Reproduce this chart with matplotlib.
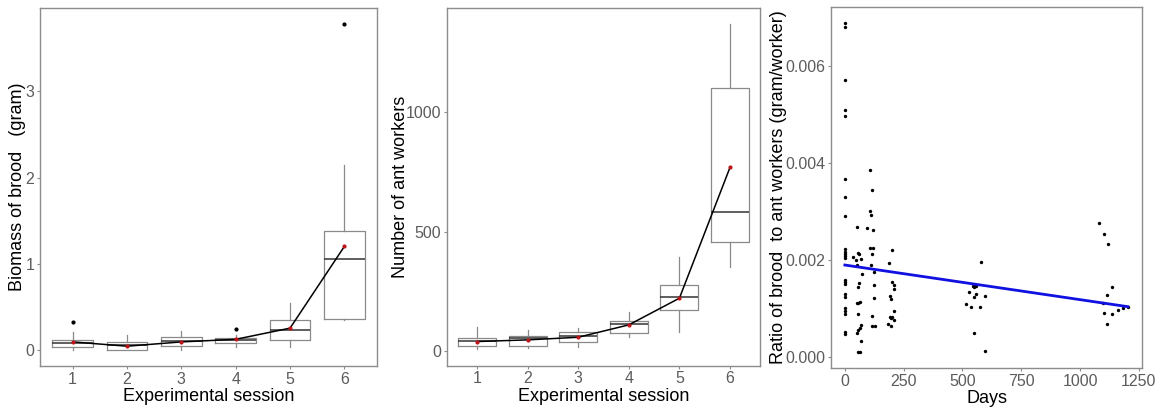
import numpy as np
import matplotlib
matplotlib.use('Agg')
import matplotlib.pyplot as plt
from matplotlib.ticker import FormatStrFormatter

plt.rcParams['font.family'] = ['Liberation Sans', 'DejaVu Sans']

sessions = [1, 2, 3, 4, 5, 6]

# Biomass of brood (gram) per session: box stats, outliers and means
brood_q1 = [0.035, 0.00, 0.04, 0.08, 0.11, 0.36]
brood_med = [0.08, 0.05, 0.10, 0.11, 0.23, 1.05]
brood_q3 = [0.11, 0.09, 0.15, 0.13, 0.345, 1.38]
brood_lo = [0.00, 0.00, 0.00, 0.03, 0.03, 0.35]
brood_hi = [0.20, 0.17, 0.22, 0.17, 0.54, 2.14]
brood_out = [[0.32], [], [], [0.24], [], [3.78]]
brood_mean = [0.09, 0.04, 0.09, 0.12, 0.25, 1.20]

# Number of ant workers per session
workers_q1 = [20, 20, 38, 73, 171, 458]
workers_med = [42, 53, 62, 112, 223, 581]
workers_q3 = [52, 63, 77, 126, 277, 1102]
workers_lo = [6, 10, 17, 55, 77, 349]
workers_hi = [97, 87, 94, 164, 392, 1372]
workers_mean = [38, 45, 56, 108, 220, 769]

# Ratio of brood to ant workers vs days
days = [0, 0, 0, 0, 0, 0, 0, 0, 0, 0, 0, 0, 0, 0, 0, 0, 0, 0, 0, 0, 0, 0, 0,
        50, 35, 48, 57, 60, 67, 50, 72, 60, 58, 50, 57, 64, 55, 69, 64, 58, 50, 68, 57, 65,
        109, 116, 105, 113, 94, 120, 105, 119, 115, 112, 123, 125, 122, 116, 116, 130,
        201, 188, 201, 208, 207, 194, 198, 207, 194, 201, 208, 196, 184, 198,
        581, 546, 551, 556, 548, 527, 557, 551, 595, 514, 537, 573, 551, 597,
        1080, 1101, 1118, 1135, 1115, 1098, 1101, 1135, 1113, 1163, 1183, 1203]
ratio = [0.00688, 0.00680, 0.00570, 0.00509, 0.00496, 0.00367, 0.00329, 0.00291,
         0.00222, 0.00216, 0.00211, 0.00207, 0.00204, 0.00159, 0.00154, 0.00150,
         0.00130, 0.00124, 0.00101, 0.00094, 0.00089, 0.00051, 0.00047,
         0.00267, 0.00206, 0.00199, 0.00214, 0.00211, 0.00201, 0.00190, 0.00170, 0.00151,
         0.00143, 0.00110, 0.00111, 0.00113, 0.00089, 0.00065, 0.00060, 0.00055, 0.00048,
         0.00032, 0.00010, 0.00010,
         0.00384, 0.00343, 0.00301, 0.00292, 0.00266, 0.00261, 0.00225, 0.00225, 0.00211,
         0.00189, 0.00174, 0.00148, 0.00120, 0.00083, 0.00063, 0.00063,
         0.00220, 0.00193, 0.00154, 0.00148, 0.00139, 0.00125, 0.00118, 0.00094, 0.00082,
         0.00081, 0.00076, 0.00080, 0.00067, 0.00064,
         0.00196, 0.00146, 0.00146, 0.00146, 0.00143, 0.00133, 0.00130, 0.00123, 0.00126,
         0.00108, 0.00103, 0.00103, 0.00048, 0.00012,
         0.00275, 0.00252, 0.00233, 0.00143, 0.00127, 0.00111, 0.00091, 0.00087, 0.00068,
         0.00097, 0.00100, 0.00103]
fit_intercept = 0.00189
fit_slope = -7.14e-7

TICK_COLOR = '#5c5c5c'
FRAME_COLOR = '#8c8c8c'
BOX_COLOR = '#8a8a8a'


def style_axes(ax):
    for spine in ax.spines.values():
        spine.set_color(FRAME_COLOR)
        spine.set_linewidth(1.0)
    ax.tick_params(direction='out', length=2.5, width=0.8, pad=1.5, color=FRAME_COLOR,
                   labelcolor=TICK_COLOR, labelsize=11.5)


def session_boxes(ax, q1, med, q3, lo, hi, outliers, means):
    stats = []
    for i in range(len(sessions)):
        stats.append(dict(q1=q1[i], med=med[i], q3=q3[i], whislo=lo[i],
                          whishi=hi[i], fliers=outliers[i]))
    ax.bxp(stats, positions=sessions, widths=0.75, showcaps=False,
           boxprops=dict(color=BOX_COLOR, linewidth=0.9),
           whiskerprops=dict(color=BOX_COLOR, linewidth=0.9),
           medianprops=dict(color='#333333', linewidth=1.1),
           flierprops=dict(marker='o', markersize=2.0, markerfacecolor='black',
                           markeredgecolor='black'))
    ax.plot(sessions, means, color='black', linewidth=1.1, zorder=4)
    ax.scatter(sessions, means, s=4, color='#c0141b', zorder=5)
    ax.set_xlim(0.4, 6.6)
    ax.set_xticks(sessions)
    ax.set_xticklabels([str(s) for s in sessions])
    ax.set_xlabel('Experimental session', fontsize=13, labelpad=1)


fig = plt.figure(figsize=(11.64, 4.11), dpi=100)

ax1 = fig.add_axes([0.0344, 0.1095, 0.2895, 0.871])
session_boxes(ax1, brood_q1, brood_med, brood_q3, brood_lo, brood_hi, brood_out, brood_mean)
ax1.set_ylim(-0.19, 3.97)
ax1.set_yticks([0, 1, 2, 3])
ax1.set_ylabel('Biomass of brood   (gram)', fontsize=13, va='center')
ax1.yaxis.set_label_coords(-0.068, 0.5)
style_axes(ax1)

ax2 = fig.add_axes([0.3838, 0.1105, 0.2694, 0.869])
session_boxes(ax2, workers_q1, workers_med, workers_q3, workers_lo, workers_hi,
              [[] for _ in sessions], workers_mean)
ax2.set_ylim(-63, 1437)
ax2.set_yticks([0, 500, 1000])
ax2.set_ylabel('Number of ant workers', fontsize=13, va='center')
ax2.yaxis.set_label_coords(-0.149, 0.5)
style_axes(ax2)

ax3 = fig.add_axes([0.7137, 0.1039, 0.2677, 0.880])
ax3.scatter(days, ratio, s=6, color='black', linewidths=0, zorder=3)
days_arr = np.array(days)
fit_x = np.array([days_arr.min(), days_arr.max()])
ax3.plot(fit_x, fit_intercept + fit_slope * fit_x, color='#1010e0', linewidth=2.0, zorder=4)
ax3.set_xlim(-60, 1265)
ax3.set_ylim(-0.00024, 0.00722)
ax3.set_xticks([0, 250, 500, 750, 1000, 1250])
ax3.set_yticks([0.0, 0.002, 0.004, 0.006])
ax3.yaxis.set_major_formatter(FormatStrFormatter('%.3f'))
ax3.set_xlabel('Days', fontsize=13, labelpad=1)
ax3.set_ylabel('Ratio of brood  to ant workers (gram/worker)', fontsize=13, va='center')
ax3.yaxis.set_label_coords(-0.1675, 0.5)
style_axes(ax3)

fig.savefig('out.png', dpi=100)
